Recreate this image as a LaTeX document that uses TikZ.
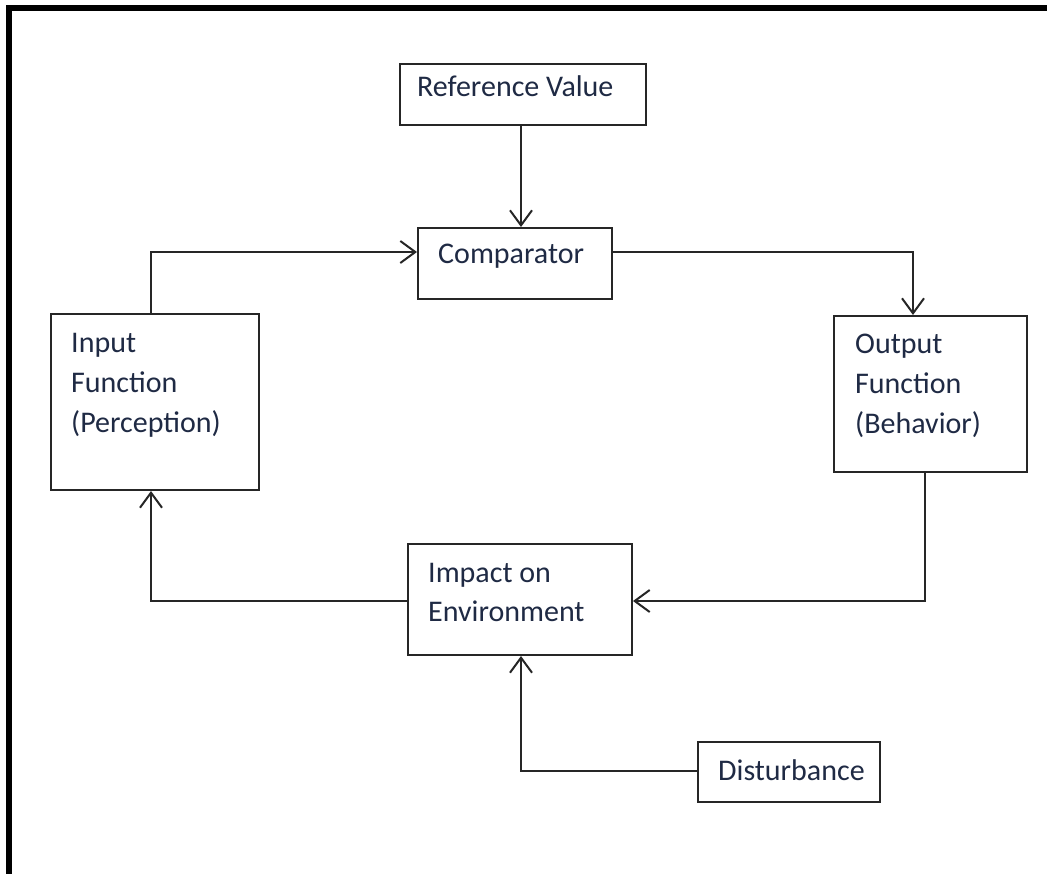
\documentclass[tikz,border=0pt]{standalone}
\usepackage{fontspec}
\setmainfont{Carlito}
\usetikzlibrary{arrows.meta}
\definecolor{linegray}{HTML}{262626}
\definecolor{textblue}{HTML}{1F2A44}
\begin{document}
\begin{tikzpicture}[x=1pt,y=-1pt,
  box/.style={draw=linegray,line width=2pt,rectangle,inner sep=0pt},
  txt/.style={anchor=base west,inner sep=0pt,text=textblue,font=\fontsize{30}{40}\selectfont},
  conn/.style={draw=linegray,line width=2pt,-{Straight Barb[length=15pt,width=22pt,line width=2pt]}},
  frame/.style={draw=black,line width=6pt}]
\useasboundingbox (0,0) rectangle (1047,873);
\fill[white] (0,0) rectangle (1047,873);
\draw[frame] (9,880) -- (9,8) -- (1055,8);
% boxes
\node[box,minimum width=246pt,minimum height=61pt] (ref) at (523,94) {};
\node[box,minimum width=194pt,minimum height=71pt] (comp) at (515,263.5) {};
\node[box,minimum width=208pt,minimum height=176pt] (inp) at (155,402) {};
\node[box,minimum width=193pt,minimum height=156pt] (out) at (930.5,394) {};
\node[box,minimum width=224pt,minimum height=111pt] (imp) at (520,599.5) {};
\node[box,minimum width=182pt,minimum height=60pt] (dist) at (789,772) {};
% texts
\node[txt] (tref) at (417,96) {Reference Value};
\node[txt] (tcomp) at (438,263) {Comparator};
\node[txt] (tin1) at (71,352) {Input};
\node[txt] (tin2) at (71,392) {Function};
\node[txt] (tin3) at (71,432) {(Perception)};
\node[txt] (tout1) at (855,353) {Output};
\node[txt] (tout2) at (855,393) {Function};
\node[txt] (tout3) at (855,433) {(Behavior)};
\node[txt] (timp1) at (428,582) {Impact on};
\node[txt] (timp2) at (428,621) {Environment};
\node[txt] (tdist) at (718,780) {Disturbance};
% coordinates
\coordinate (c0) at (521,160);
\coordinate (c1) at (151,252);
\coordinate (c2) at (913,252);
\coordinate (c3) at (925,601);
\coordinate (c4) at (151,601);
\coordinate (c5) at (521,771);
% connectors
\draw[conn] (ref.south -| c0) -- (c0 |- comp.north);
\draw[conn] (inp.north -| c1) -- (c1) -- (c1 -| comp.west);
\draw[conn] (c2 -| comp.east) -- (c2) -- (c2 |- out.north);
\draw[conn] (out.south -| c3) -- (c3) -- (c3 -| imp.east);
\draw[conn] (imp.west |- c4) -- (c4) -- (c4 |- inp.south);
\draw[conn] (dist.west |- c5) -- (c5) -- (c5 |- imp.south);
\end{tikzpicture}
\end{document}
